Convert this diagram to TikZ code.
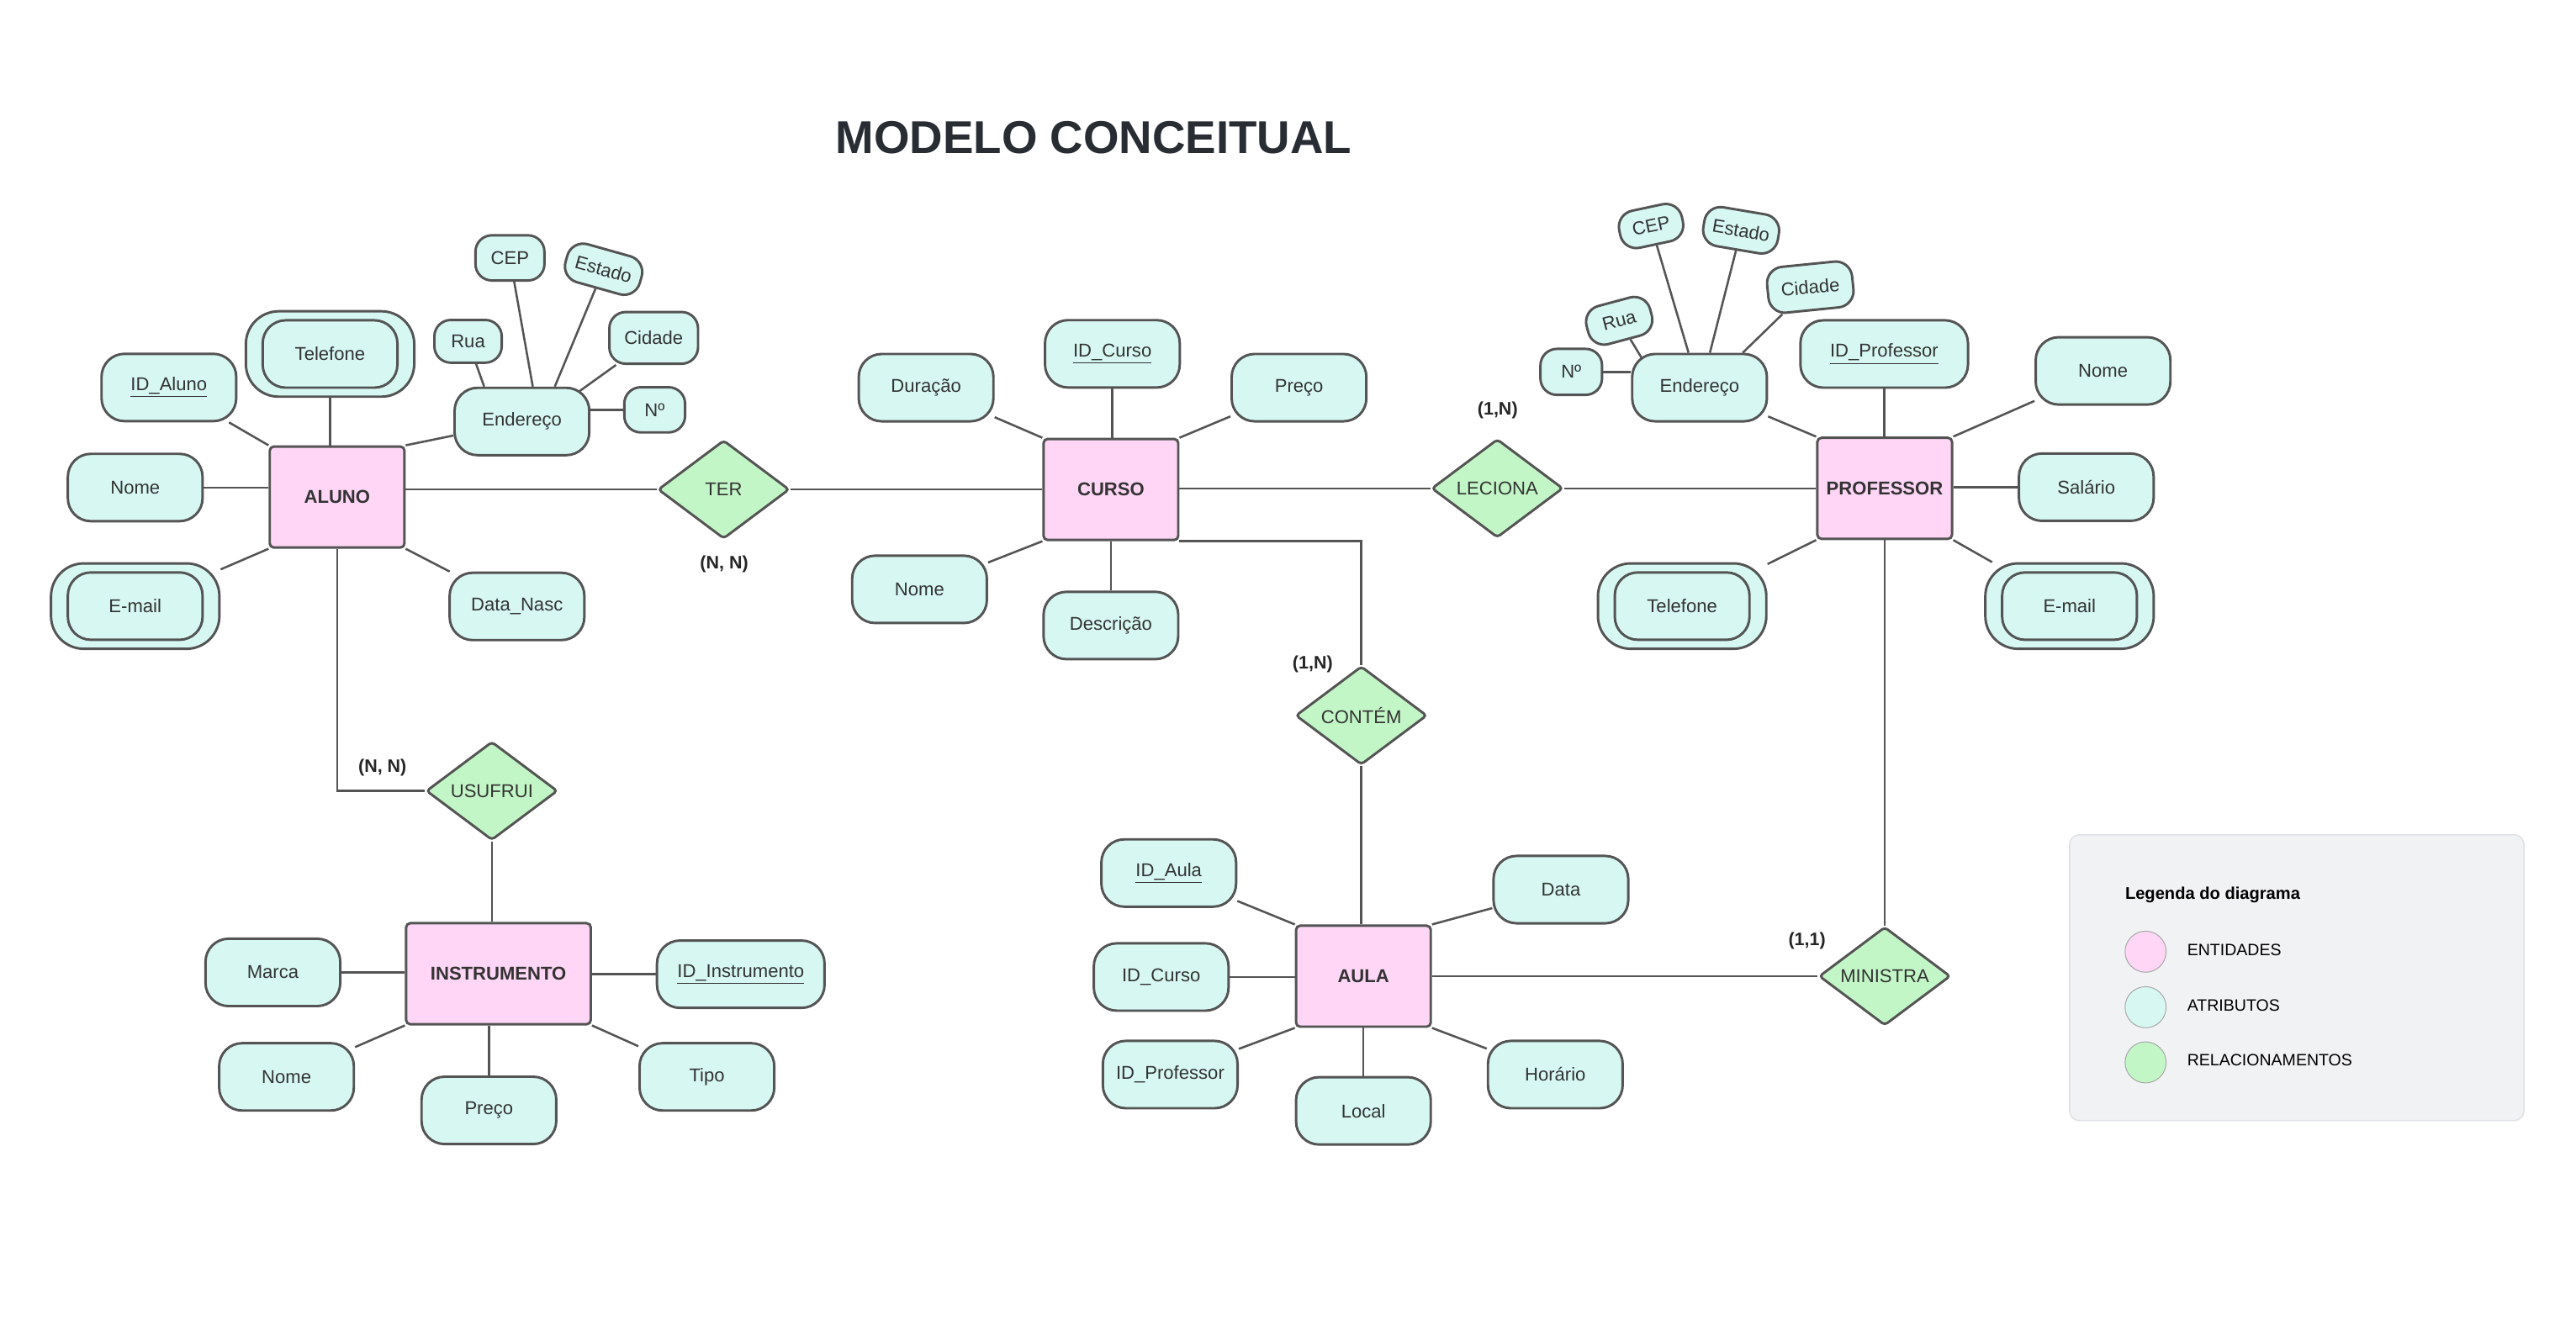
\documentclass[tikz,border=0pt]{standalone}
\usepackage{fontspec}
\setmainfont{Liberation Sans}
\usetikzlibrary{shapes.geometric,calc}
\definecolor{linec}{HTML}{545454}
\definecolor{entc}{HTML}{FFD6F6}
\definecolor{attrc}{HTML}{D7F8F2}
\definecolor{relc}{HTML}{C3F6C6}
\definecolor{textc}{HTML}{333333}
\definecolor{titlec}{HTML}{282C33}
\definecolor{legbg}{HTML}{F1F2F4}
\definecolor{legbd}{HTML}{DFE1E5}
\begin{document}
\begin{tikzpicture}[x=1pt,y=-1pt,
 every node/.style={inner sep=0pt, text=textc},
 ent/.style={rectangle, draw=linec, line width=1.5pt, fill=entc, rounded corners=2.5pt, minimum width=82pt, minimum height=61.5pt, font=\fontsize{11.3}{13}\selectfont\bfseries},
 attr/.style={rectangle, draw=linec, line width=1.5pt, fill=attrc, rounded corners=14pt, minimum width=82pt, minimum height=41pt, font=\fontsize{11.3}{13}\selectfont},
 dblout/.style={attr, rounded corners=20pt, minimum width=102.5pt, minimum height=52pt},
 sattr/.style={attr, rounded corners=10pt},
 rel/.style={diamond, draw=linec, line width=1.5pt, fill=relc, minimum width=80pt, minimum height=60pt, aspect=1.33, rounded corners=2pt, font=\fontsize{11.3}{13}\selectfont},
 card/.style={font=\fontsize{11}{13}\selectfont\bfseries, text=black!85},
 conn/.style={draw=linec, line width=1.3pt},
 legc/.style={circle, draw=black!35, line width=0.5pt, minimum size=25pt},
 legt/.style={anchor=west, font=\fontsize{10}{12}\selectfont, text=black},
]
\useasboundingbox (0,0) rectangle (1568,807);
\fill[white] (0,0) rectangle (1568,807);

% title
\node[font=\fontsize{28}{32}\selectfont\bfseries, text=titlec] (title) at (665.7,83.6) {MODELO CONCEITUAL};

% ---------- ALUNO ----------
\node[ent] (aluno) at (205.2,302.6) {ALUNO};
\node[attr] (aid) at (102.8,235.9) {\underline{ID\_Aluno}};
\node[dblout] (atel) at (200.9,215.5) {};
\node[attr] (atelin) at (atel) {Telefone};
\node[attr] (anome) at (82.3,296.8) {Nome};
\node[dblout] (aemail) at (82.3,369) {};
\node[attr] (aemailin) at (aemail) {E-mail};
\node[attr] (adata) at (314.7,369.2) {Data\_Nasc};
\node[attr] (aend) at (317.7,256.6) {Endereço};
\node[sattr, minimum width=41pt, minimum height=26pt] (arua) at (284.9,207.8) {Rua};
\node[sattr, minimum width=42pt, minimum height=27.5pt] (acep) at (310.4,157) {CEP};
\node[sattr, minimum width=47pt, minimum height=24pt, rotate=-15.7] (aest) at (367.4,163.9) {Estado};
\node[sattr, minimum width=54pt, minimum height=31.5pt] (acid) at (397.9,205.7) {Cidade};
\node[sattr, minimum width=37pt, minimum height=27.5pt] (anum) at (398.5,249.5) {Nº};

% ---------- TER ----------
\node[rel] (ter) at (440.5,298) {TER};
\node[card] (cardter) at (440.8,343.4) {(N, N)};

% ---------- CURSO ----------
\node[ent] (curso) at (676.2,298) {CURSO};
\node[attr] (cid) at (677.1,215.4) {\underline{ID\_Curso}};
\node[attr] (cdur) at (563.7,236) {Duração};
\node[attr] (cpreco) at (790.7,236) {Preço};
\node[attr] (cnome) at (559.7,358.8) {Nome};
\node[attr] (cdesc) at (676.2,380.8) {Descrição};

% ---------- LECIONA ----------
\node[rel] (leciona) at (911.4,297.3) {LECIONA};
\node[card] (cardlec) at (911.6,250.0) {(1,N)};

% ---------- PROFESSOR ----------
\node[ent] (prof) at (1147.2,297.3) {PROFESSOR};
\node[attr, minimum width=102pt] (pid) at (1146.9,215.5) {\underline{ID\_Professor}};
\node[attr] (pnome) at (1280.1,225.8) {Nome};
\node[attr] (psal) at (1269.9,296.6) {Salário};
\node[dblout] (pemail) at (1259.7,369) {};
\node[attr] (pemailin) at (pemail) {E-mail};
\node[dblout] (ptel) at (1023.9,369) {};
\node[attr] (ptelin) at (ptel) {Telefone};
\node[attr] (pend) at (1034.5,236) {Endereço};
\node[sattr, minimum width=37.5pt, minimum height=28pt] (pnum) at (956.4,226.4) {Nº};
\node[sattr, minimum width=40pt, minimum height=24pt, rotate=15] (prua) at (985.6,195.3) {Rua};
\node[sattr, minimum width=39pt, minimum height=23pt, rotate=12] (pcep) at (1005,137.6) {CEP};
\node[sattr, minimum width=46pt, minimum height=24pt, rotate=-9.6] (pest) at (1059.8,140.2) {Estado};
\node[sattr, minimum width=52pt, minimum height=28pt, rotate=5.7] (pcid) at (1101.9,174.8) {Cidade};

% ---------- CONTEM / AULA ----------
\node[rel] (contem) at (828.6,435.6) {CONTÉM};
\node[card] (cardcont) at (799,404.3) {(1,N)};
\node[ent] (aula) at (829.9,594.3) {AULA};
\node[attr] (lid) at (711.4,531.5) {\underline{ID\_Aula}};
\node[attr] (ldata) at (950.1,541.6) {Data};
\node[attr] (lcur) at (706.8,594.8) {ID\_Curso};
\node[attr] (lprof) at (712.3,654.2) {ID\_Professor};
\node[attr] (lloc) at (829.9,676.3) {Local};
\node[attr] (lhor) at (946.7,654.2) {Horário};

% ---------- MINISTRA ----------
\node[rel] (ministra) at (1147.2,594.3) {MINISTRA};
\node[card] (cardmin) at (1099.9,572.9) {(1,1)};

% ---------- USUFRUI / INSTRUMENTO ----------
\node[rel] (usufrui) at (299.4,481.5) {USUFRUI};
\node[card] (cardusu) at (232.8,467.4) {(N, N)};
\node[ent, minimum width=112.4pt] (inst) at (303.4,592.8) {INSTRUMENTO};
\node[attr] (imarca) at (166.1,592) {Marca};
\node[attr, minimum width=102pt] (iid) at (450.9,593.1) {\underline{ID\_Instrumento}};
\node[attr] (inome) at (174.4,655.6) {Nome};
\node[attr] (ipreco) at (297.6,676) {Preço};
\node[attr] (itipo) at (430.3,655.6) {Tipo};

% ---------- connectors ----------
% ALUNO
\draw[conn] (aid) -- (aluno.north west);
\draw[conn] (atel.south) -- (atel.south |- aluno.north);
\draw[conn] (anome.east) -- (anome.east -| aluno.west);
\draw[conn] (aemail) -- (aluno.south west);
\draw[conn] (adata) -- (aluno.south east);
\draw[conn] (aend) -- (aluno.north east);
\draw[conn] ([xshift=-23pt]aend.north) -- (arua);
\draw[conn] ([xshift=6.6pt]aend.north) -- (acep);
\draw[conn] ([xshift=20pt]aend.north) -- (aest);
\draw[conn] ([xshift=-7pt,yshift=-3pt]aend.north east) -- (acid);
\draw[conn, line width=1.8pt] (anum.west) -- (anum.west -| aend.east);
% relationships
\draw[conn] (aluno.east |- ter.west) -- (ter.west);
\draw[conn] (ter.east) -- (ter.east -| curso.west);
\draw[conn] (leciona.west -| curso.east) -- (leciona.west);
\draw[conn] (leciona.east) -- (leciona.east -| prof.west);
\draw[conn] (aluno.south) |- (usufrui.west);
\draw[conn] (usufrui.south) -- (usufrui.south |- inst.north);
\draw[conn] (curso.south east) -| (contem.north);
\draw[conn] (contem.south) -- (contem.south |- aula.north);
\draw[conn] (aula.east |- ministra.west) -- (ministra.west);
\draw[conn] (prof.south) -- (prof.south |- ministra.north);
% CURSO
\draw[conn] (cdur) -- (curso.north west);
\draw[conn] (cid.south) -- (cid.south |- curso.north);
\draw[conn] (cpreco) -- (curso.north east);
\draw[conn] (cnome) -- (curso.south west);
\draw[conn] (cdesc.north) -- (cdesc.north |- curso.south);
% PROFESSOR
\draw[conn] (pid.south) -- (pid.south |- prof.north);
\draw[conn] (pnome) -- (prof.north east);
\draw[conn] (psal.west) -- (psal.west -| prof.east);
\draw[conn] (pemail) -- (prof.south east);
\draw[conn] (ptel) -- (prof.south west);
\draw[conn] (pend) -- (prof.north west);
\draw[conn] (pnum.east) -- (pnum.east -| pend.west);
\draw[conn] ([xshift=7pt,yshift=-4pt]pend.north west) -- (prua);
\draw[conn] ([xshift=-6.7pt]pend.north) -- (pcep);
\draw[conn] ([xshift=6.3pt]pend.north) -- (pest);
\draw[conn] ([xshift=26.3pt]pend.north) -- (pcid);
% AULA
\draw[conn] (lid) -- (aula.north west);
\draw[conn] (ldata) -- (aula.north east);
\draw[conn] (lcur.east) -- (lcur.east -| aula.west);
\draw[conn] (lprof) -- (aula.south west);
\draw[conn] (lloc.north) -- (lloc.north |- aula.south);
\draw[conn] (lhor) -- (aula.south east);
% INSTRUMENTO
\draw[conn] (imarca.east) -- (imarca.east -| inst.west);
\draw[conn] (iid.west) -- (iid.west -| inst.east);
\draw[conn] (inome) -- (inst.south west);
\draw[conn] (ipreco.north) -- (ipreco.north |- inst.south);
\draw[conn] (itipo) -- (inst.south east);

% ---------- legend ----------
\node[draw=legbd, fill=legbg, line width=0.8pt, rounded corners=6pt, minimum width=276.6pt, minimum height=174pt] (legend) at (1398,595.2) {};
\node[anchor=west, font=\fontsize{10.3}{12}\selectfont\bfseries, text=black] (legtitle) at (1293.4,544.9) {Legenda do diagrama};
\node[legc, fill=entc] (lent) at (1306,579.4) {};
\node[legc, fill=attrc] (latr) at (1306,613.2) {};
\node[legc, fill=relc] (lrel) at (1306,646.8) {};
\node[legt] (lentt) at (1331.2,578.5) {ENTIDADES};
\node[legt] (latrt) at (1331.2,612.3) {ATRIBUTOS};
\node[legt] (lrelt) at (1331.2,645.6) {RELACIONAMENTOS};
\end{tikzpicture}
\end{document}
